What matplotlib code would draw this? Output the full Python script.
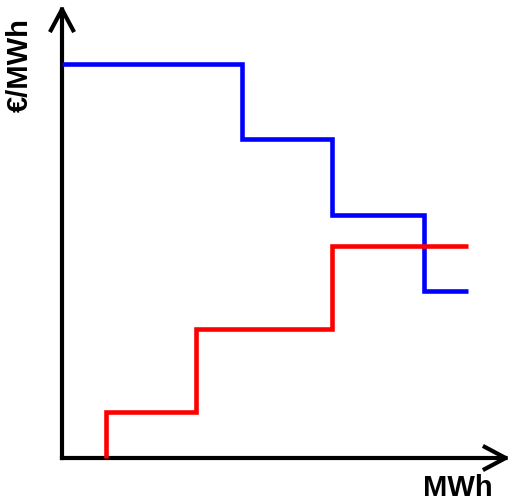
import matplotlib
matplotlib.use("Agg")
import matplotlib.pyplot as plt
from matplotlib.patches import FancyArrowPatch

# demand curve (blue): quantity break points and price per step
demand_q = [0, 180, 270, 362, 406]
demand_p = [394, 319, 243, 167, 167]

# supply curve (red), starts on the quantity axis
supply_q = [44, 44, 134, 270, 406]
supply_p = [0, 46, 129, 212, 212]

x_label = "MWh"
y_label = "€/MWh"

fig = plt.figure(figsize=(5.12, 5.03), dpi=100)
ax = fig.add_axes([0, 0, 1, 1])
ax.set_xlim(-62, 450)
ax.set_ylim(-45, 458)
ax.axis("off")

# axes as arrows
for end in [(448, 0), (0, 453)]:
    arr = FancyArrowPatch((0, 0), end, arrowstyle="->,head_length=0.75,head_width=0.4",
                          mutation_scale=20, lw=3.0, color="black",
                          shrinkA=0, shrinkB=0, capstyle="projecting")
    ax.add_patch(arr)

ax.step(demand_q, demand_p, where="post", color="#0000ff", lw=3.3,
        solid_joinstyle="miter", solid_capstyle="butt")
ax.step(supply_q, supply_p, where="post", color="#ff0000", lw=3.3,
        solid_joinstyle="miter", solid_capstyle="butt")

ax.text(-42, 393, y_label, rotation=90, ha="center", va="center",
        fontsize=21, fontweight="bold", family="Liberation Sans")
ax.text(396, -30, x_label, ha="center", va="center",
        fontsize=21, fontweight="bold", family="Liberation Sans")

fig.savefig("out.png", dpi=100)
